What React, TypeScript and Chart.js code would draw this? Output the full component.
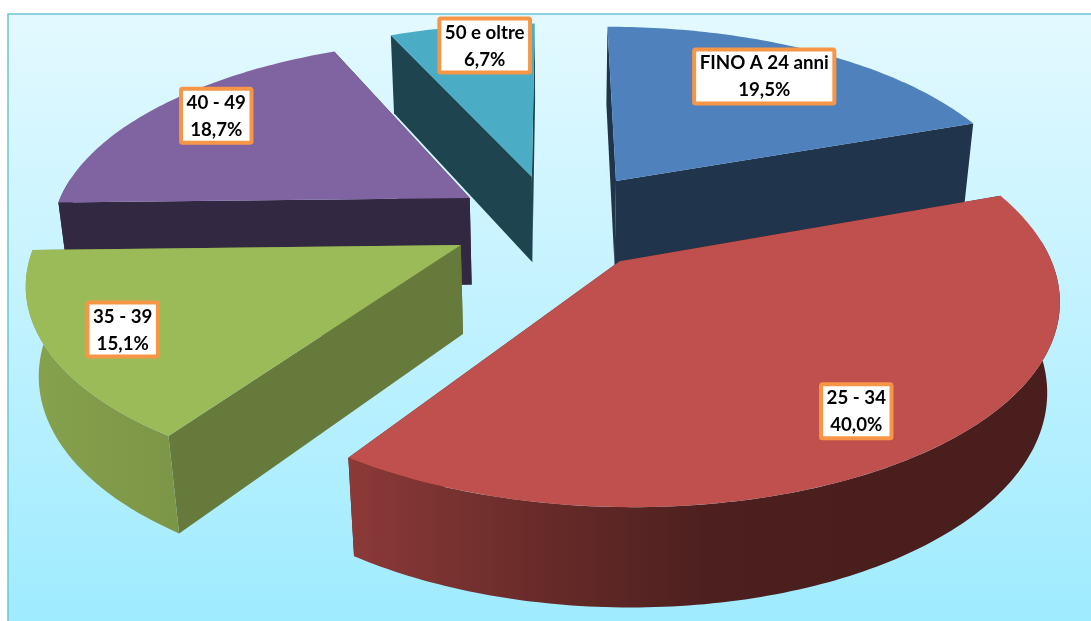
import React, { useEffect, useRef } from "react";
import { Chart, registerables } from "chart.js";

Chart.register(...registerables);

const WIDTH = 1091;
const HEIGHT = 621;

// Age bands and their share of the total, in percent.
const categories = ["FINO A 24 anni", "25 - 34", "35 - 39", "40 - 49", "50 e oltre"];
const shares = [19.5, 40.0, 15.1, 18.7, 6.7];
const sliceColors = ["#4f81bd", "#c0504d", "#9bbb59", "#8064a2", "#4bacc6"];

// Explosion of each slice, as a fraction of the pie radius.
const explosion = [0.27, 0.25, 0.245, 0.239, 0.25];
// Brightness of the flat cut faces, per slice.
const cutShade = [0.4, 0.4, 0.66, 0.4, 0.4];
// Brightness of the curved rim from left to right on screen, per slice.
const rimShade = [
  [0.4, 0.4],
  [0.73, 0.55, 0.4, 0.38, 0.38],
  [0.87, 0.83, 0.8],
  [0.4, 0.4],
  [0.4, 0.4],
];
// Where each label sits: fraction of the radius, and a turn in degrees off the slice's middle.
const labelRadius = [0.77, 0.805, 0.828, 0.835, 0.85];
const labelTurn = [-2, 2, 0, 3, 2.6];

// Perspective camera for the tilted pie.
const camera = { cx: 553, cy: 222, scaleX: 418, scaleY: 191.5, tilt: 0.1627, depth: 90, depthFall: 0.024 };

const project = (u: number, v: number, z: number) => {
  const w = 1 - camera.tilt * v + camera.depthFall * z;
  return {
    x: camera.cx + (camera.scaleX * u) / w,
    y: camera.cy + (camera.scaleY * v + camera.depth * z) / w,
  };
};

const shade = (hex: string, f: number) => {
  const n = parseInt(hex.slice(1), 16);
  const c = [(n >> 16) & 255, (n >> 8) & 255, n & 255].map((x) => Math.round(x * f));
  return `rgb(${c[0]},${c[1]},${c[2]})`;
};

const tracePath = (ctx: CanvasRenderingContext2D, pts: { x: number; y: number }[]) => {
  ctx.beginPath();
  pts.forEach((p, i) => (i ? ctx.lineTo(p.x, p.y) : ctx.moveTo(p.x, p.y)));
  ctx.closePath();
};

const fmtShare = (v: number) => `${v.toFixed(1).replace(".", ",")}%`;

const pie3d = {
  id: "pie3d",
  beforeDraw(chart: Chart) {
    const { ctx } = chart;
    ctx.save();
    ctx.fillStyle = "#ffffff";
    ctx.fillRect(0, 0, WIDTH, HEIGHT);
    const grad = ctx.createLinearGradient(0, 14, 0, HEIGHT);
    grad.addColorStop(0, "#e3f9ff");
    grad.addColorStop(1, "#9febff");
    ctx.fillStyle = grad;
    ctx.fillRect(8, 14, WIDTH - 8, HEIGHT - 14);
    ctx.strokeStyle = "#6cc3d6";
    ctx.lineWidth = 1.5;
    ctx.beginPath();
    ctx.moveTo(8, HEIGHT);
    ctx.lineTo(8, 14);
    ctx.lineTo(WIDTH, 14);
    ctx.stroke();
    ctx.restore();
  },
  // Replaces the flat arc painting with extruded slices built from the arc elements.
  beforeDatasetsDraw(chart: Chart) {
    const { ctx } = chart;
    const arcs = chart.getDatasetMeta(0).data as any[];
    const slices = arcs.map((arc, i) => {
      const { startAngle, endAngle, outerRadius } = arc.getProps(["startAngle", "endAngle", "outerRadius"], true);
      const mid = (startAngle + endAngle) / 2;
      const d = arc.options.offset / outerRadius;
      return { i, startAngle, endAngle, mid, ou: d * Math.cos(mid), ov: d * Math.sin(mid), color: arc.options.backgroundColor };
    });

    const rimPoint = (s: any, a: number, z: number) => project(s.ou + Math.cos(a), s.ov + Math.sin(a), z);
    const sampleRim = (s: any, from: number, to: number, z: number) => {
      const n = Math.max(2, Math.ceil((to - from) * 60));
      return Array.from({ length: n + 1 }, (_, k) => rimPoint(s, from + ((to - from) * k) / n, z));
    };

    [...slices].sort((a, b) => a.ov - b.ov).forEach((s) => {
      const apexTop = project(s.ou, s.ov, 0);
      const apexBottom = project(s.ou, s.ov, 1);

      // Flat cut faces.
      ctx.fillStyle = shade(s.color, cutShade[s.i]);
      [s.startAngle, s.endAngle].forEach((a: number) => {
        tracePath(ctx, [apexTop, rimPoint(s, a, 0), rimPoint(s, a, 1), apexBottom]);
        ctx.fill();
      });

      // Curved rim, only where it turns toward the viewer.
      const from = Math.max(s.startAngle, -0.1);
      const to = Math.min(s.endAngle, Math.PI + 0.1);
      if (to > from) {
        const topEdge = sampleRim(s, from, to, 0);
        const bottomEdge = sampleRim(s, from, to, 1).reverse();
        const pts = [...topEdge, ...bottomEdge];
        const xs = pts.map((p) => p.x);
        const left = Math.min(...xs);
        const right = Math.max(...xs);
        const grad = ctx.createLinearGradient(left, 0, right, 0);
        const stops = rimShade[s.i];
        stops.forEach((f, k) => grad.addColorStop(k / (stops.length - 1), shade(s.color, f)));
        ctx.fillStyle = grad;
        tracePath(ctx, pts);
        ctx.fill();
      }

      // Top surface.
      ctx.fillStyle = s.color;
      tracePath(ctx, [apexTop, ...sampleRim(s, s.startAngle, s.endAngle, 0)]);
      ctx.fill();
    });

    // Value labels in outlined boxes.
    ctx.textAlign = "center";
    ctx.textBaseline = "middle";
    ctx.font = 'bold 18.7px Lato, "Open Sans", sans-serif';
    slices.forEach((s) => {
      const r = labelRadius[s.i];
      const a = s.mid + (labelTurn[s.i] * Math.PI) / 180;
      const p = project(s.ou + r * Math.cos(a), s.ov + r * Math.sin(a), 0);
      const lines = [categories[s.i], fmtShare(shares[s.i])];
      const textW = Math.max(...lines.map((l) => ctx.measureText(l).width));
      const w = textW + 11;
      const h = 54;
      ctx.beginPath();
      ctx.roundRect(p.x - w / 2, p.y - h / 2, w, h, 1.5);
      ctx.fillStyle = "#ffffff";
      ctx.fill();
      ctx.strokeStyle = "#f79646";
      ctx.lineWidth = 4;
      ctx.stroke();
      ctx.fillStyle = "#000000";
      ctx.fillText(lines[0], p.x, p.y - 13);
      ctx.fillText(lines[1], p.x, p.y + 14);
    });
    return false;
  },
};

export default function App() {
  const ref = useRef<HTMLCanvasElement>(null);
  useEffect(() => {
    const pie = new Chart(ref.current!, {
      type: "pie",
      data: {
        labels: categories,
        datasets: [
          {
            data: shares,
            backgroundColor: sliceColors,
            borderWidth: 0,
            // Offsets are resolved against the radius the controller lays out.
            offset: explosion.map((e) => e * 275),
          },
        ],
      },
      options: {
        responsive: false,
        animation: false,
        events: [],
        plugins: { legend: { display: false }, tooltip: { enabled: false } },
      },
      plugins: [pie3d],
    } as any);
    return () => pie.destroy();
  }, []);
  return (
    <div style={{ position: "fixed", left: 0, top: 0, width: WIDTH, height: HEIGHT, overflow: "hidden" }}>
      <canvas ref={ref} width={WIDTH} height={HEIGHT} style={{ display: "block" }} />
    </div>
  );
}
